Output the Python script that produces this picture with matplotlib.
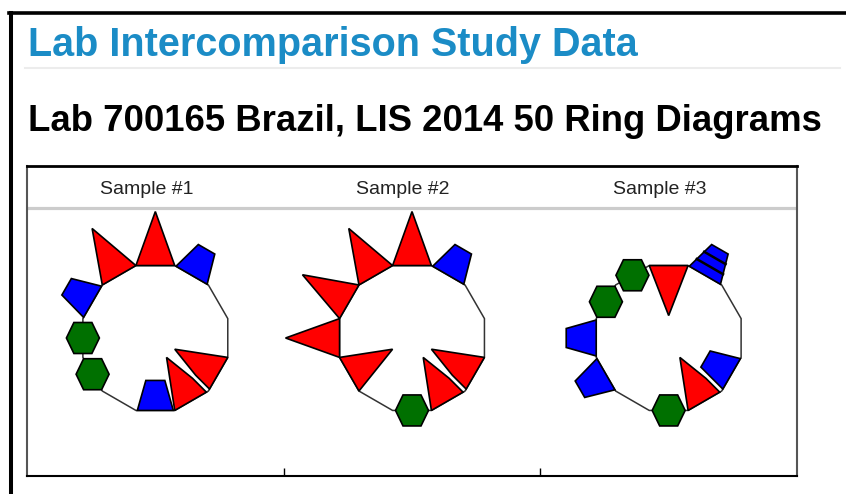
import numpy as np
import matplotlib
matplotlib.use("Agg")
import matplotlib.pyplot as plt
from matplotlib.patches import Polygon
from matplotlib.lines import Line2D

# marks on the 12 ring positions, clockwise from the top edge
# T+/T- red triangle out/in, B+/B- blue trapezoid out/in, G green hexagon, "" plain edge
samples = ["Sample #1", "Sample #2", "Sample #3"]
ring1 = ["T+", "B+", "", "", "T-", "T-", "B-", "", "G", "G", "B+", "T+"]
ring2 = ["T+", "B+", "", "", "T-", "T-", "G", "", "T-", "T+", "T+", "T+"]
ring3 = ["T-", "B+", "", "", "B-", "T-", "G", "", "B+", "B+", "G", "G"]
rings = [ring1, ring2, ring3]
# (sample, position, bands) for banded marks
banded = [(2, 1, 3)]
cut_after = 4  # white cut at the vertex between positions 4 and 5

colors = {"T": "#ff0000", "B": "#0000ff", "G": "#007000"}
R = 75.0

W, H = 846, 494


def fx(x):
    return x / W


def fy(y):
    return 1 - y / H


def edge(i):
    a0 = np.radians(90 - 30 * i + 15)
    a1 = np.radians(90 - 30 * i - 15)
    p0 = R * np.array([np.cos(a0), np.sin(a0)])
    p1 = R * np.array([np.cos(a1), np.sin(a1)])
    return p0, p1


def mark(code, p0, p1):
    mid = (p0 + p1) / 2
    t = (p1 - p0) / np.linalg.norm(p1 - p0)
    n = mid / np.linalg.norm(mid)
    s = 1 if code.endswith("+") else -1
    if code[0] == "T":
        h = 54 if s > 0 else 50
        return [p0, p1, mid + s * h * n]
    if code[0] == "B":
        return [mid - 18 * t, mid + 18 * t,
                mid + 9.5 * t + s * 30 * n, mid - 9.5 * t + s * 30 * n]
    # hexagon, always flat top
    return [mid + np.array(v) for v in
            [(16.5, 0), (9, 15.5), (-9, 15.5), (-16.5, 0), (-9, -15.5), (9, -15.5)]]


def clip(poly, p, d):
    # keep the part of poly where (x - p).d >= 0
    out = []
    for k in range(len(poly)):
        a, b = poly[k], poly[(k + 1) % len(poly)]
        sa, sb = np.dot(a - p, d), np.dot(b - p, d)
        if sa >= 0:
            out.append(a)
        if sa * sb < 0:
            out.append(a + (b - a) * sa / (sa - sb))
    return out


fig = plt.figure(figsize=(W / 100, H / 100), dpi=100)

# page decorations
fig.add_artist(Line2D([fx(11), fx(11)], [fy(13), fy(494)], color="black", lw=2.9))
fig.add_artist(Line2D([fx(9), fx(846)], [fy(13), fy(13)], color="black", lw=2.6))
fig.add_artist(Line2D([fx(25), fx(840)], [fy(68), fy(68)], color="#ececec", lw=1.5))
fig.text(fx(28), fy(56), "Lab Intercomparison Study Data", fontsize=28.5,
         fontweight="bold", color="#1b8cc6", family="Liberation Sans", va="baseline")
fig.text(fx(28), fy(131), "Lab 700165 Brazil, LIS 2014 50 Ring Diagrams", fontsize=26.3,
         fontweight="bold", color="black", family="Liberation Sans", va="baseline")

# panel frame
left, right, top, bottom = 27, 797, 166, 476
frame = fig.add_axes([fx(left), fy(bottom), (right - left) / W, (bottom - top) / H])
frame.set_xlim(0, len(samples))
frame.set_ylim(0, bottom - top)
frame.set_xticks(range(1, len(samples)))
frame.set_yticks([])
frame.tick_params(axis="x", direction="in", length=6, width=1, labelbottom=False)
frame.spines["top"].set_linewidth(2)
frame.spines["bottom"].set_linewidth(1.5)
for sp in ["left", "right"]:
    frame.spines[sp].set_linewidth(1.5)
    frame.spines[sp].set_color("#555555")
frame.axhline(bottom - 208, color="#cccccc", lw=2.3)
for i, name in enumerate(samples):
    frame.text(i + 0.465, bottom - 194, name, ha="center", va="baseline",
               fontsize=14, color="#222222", family="Liberation Sans")

pw = (right - left) / len(samples)
for si, ring in enumerate(rings):
    ax = fig.add_axes([fx(left + si * pw), fy(bottom), pw / W, (bottom - 208) / H])
    ax.set_xlim(-pw / 2, pw / 2)
    ax.set_ylim(-(bottom - 338), 338 - 208)
    ax.axis("off")
    ax.patch.set_alpha(0)

    verts = [edge(i)[0] for i in range(12)]
    ax.add_patch(Polygon(verts, closed=True, fill=False, ec="#333333", lw=1.1, zorder=1))

    v = edge(cut_after)[1]
    u = -v / np.linalg.norm(v)
    w = np.array([u[1], -u[0]])

    for i, code in enumerate(ring):
        if not code:
            continue
        p0, p1 = edge(i)
        poly = mark(code, p0, p1)
        if code.endswith("-") and i in (cut_after, cut_after + 1):
            s = np.sign(np.dot((p0 + p1) / 2 - v, w))
            poly = clip(poly, v + 2.2 * s * w, s * w)
        ax.add_patch(Polygon(poly, closed=True, fc=colors[code[0]], ec="black",
                             lw=1.2, joinstyle="miter", zorder=2))
        for bs, bp, nb in banded:
            if bs == si and bp == i:
                for k in range(1, nb):
                    f = k / nb
                    a = poly[0] + (poly[3] - poly[0]) * f
                    b = poly[1] + (poly[2] - poly[1]) * f
                    ax.plot([a[0], b[0]], [a[1], b[1]], color="black", lw=1.8, zorder=3)

fig.savefig("out.png", dpi=100)
